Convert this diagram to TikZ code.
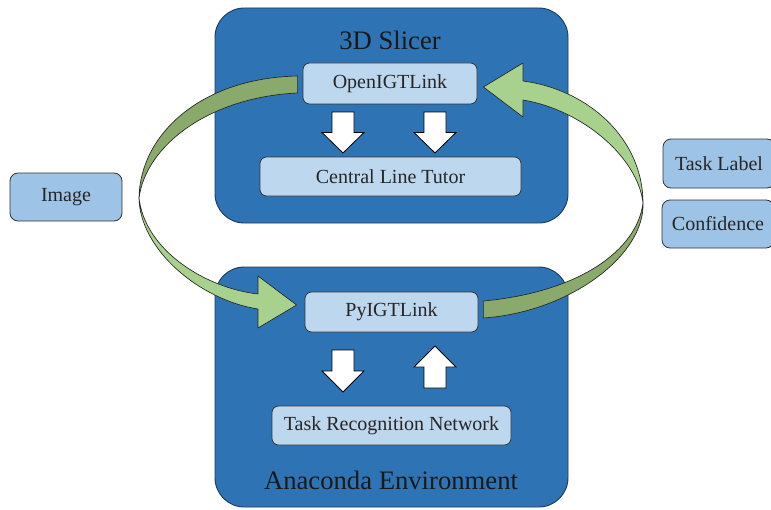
\documentclass[tikz,border=0pt]{standalone}
\usepackage{fontspec}
\setmainfont{Liberation Serif}
\usetikzlibrary{calc}
\definecolor{envblue}{HTML}{2E74B5}
\definecolor{envline}{HTML}{1F3A5F}
\definecolor{modfill}{HTML}{BDD7EE}
\definecolor{datafill}{HTML}{9DC3E6}
\definecolor{greenlight}{HTML}{A9D18E}
\definecolor{greendark}{HTML}{89AA6B}
\begin{document}
\begin{tikzpicture}[x=0.75pt,y=-0.75pt,
  envbox/.style={draw=envline,fill=envblue,rounded corners=22pt,line width=0.7pt,inner sep=0pt},
  modbox/.style={draw=black!80,fill=modfill,rounded corners=5pt,line width=0.6pt,inner sep=0pt,
    text=black!85,font=\fontsize{15}{18}\selectfont},
  databox/.style={modbox,fill=datafill,rounded corners=6pt,minimum width=84pt,minimum height=36pt},
  envtitle/.style={text=black!90,font=\fontsize{20}{24}\selectfont},
  ribbon/.style={draw=black!85,line width=0.5pt,line join=round},
  blockarrow/.style={draw=black,fill=white,line width=0.6pt,line join=miter}]
\useasboundingbox (0,0) rectangle (771,510);
% the two environments
\node[envbox,minimum width=264.75pt,minimum height=161.25pt] (slicer) at (391.5,115.5) {};
\node[envbox,minimum width=264.75pt,minimum height=180pt] (conda) at (391.5,387) {};
\node[envtitle] (slicertitle) at (390,40) {3D Slicer};
\node[envtitle] (condatitle) at (391,480) {Anaconda Environment};
% modules
\node[modbox,minimum width=130.5pt,minimum height=30.75pt] (oigt) at (390,83.5) {OpenIGTLink};
\node[modbox,minimum width=195.75pt,minimum height=29.25pt] (clt) at (390.5,176.5) {Central Line Tutor};
\node[modbox,minimum width=129.75pt,minimum height=30pt] (py) at (391.5,312) {PyIGTLink};
\node[modbox,minimum width=179.25pt,minimum height=29.25pt] (trn) at (391.5,425.5) {Task Recognition Network};
% data
\node[databox] (img) at (66,197) {Image};
\node[databox,minimum height=36.75pt] (tlabel) at (719,163.5) {Task Label};
\node[databox] (conf) at (718,224) {Confidence};
% white block arrows
\foreach \x/\ya/\yb in {343/112/153,435/112/153,343/350/392,435/388/346} {
  \pgfmathsetmacro\yh{(\ya+\yb)/2}
  \draw[blockarrow] ({\x-11},\ya) -- ({\x+11},\ya) -- ({\x+11},\yh) -- ({\x+21},\yh)
    -- (\x,\yb) -- ({\x-21},\yh) -- ({\x-11},\yh) -- cycle;
}
% curved arrow: Slicer -> PyIGTLink
\coordinate (ltailA) at ($(oigt.west)+(-5,-7.5)$);
\coordinate (ltailB) at ($(oigt.west)+(-5,9.5)$);
\coordinate (ltip) at ($(py.west)+(-8,-7)$);
\draw[ribbon,fill=greendark] (ltailA) .. controls (200,78) and (140,135) .. (139,198)
  .. controls (146,145) and (210,97) .. (ltailB) -- cycle;
\draw[ribbon,fill=greenlight] (139,198) .. controls (140,250) and (200,300) .. (258,309)
  -- (258,328) -- (ltip) -- (258,276) -- (258,294)
  .. controls (205,288) and (145,250) .. (139,198) -- cycle;
% curved arrow: PyIGTLink -> Slicer
\coordinate (rtailA) at ($(py.east)+(5,-11)$);
\coordinate (rtailB) at ($(py.east)+(5,6)$);
\coordinate (rtip) at ($(oigt.east)+(6,3.5)$);
\draw[ribbon,fill=greendark] (rtailB) .. controls (570,312) and (645,255) .. (643,203)
  .. controls (637,250) and (580,292) .. (rtailA) -- cycle;
\draw[ribbon,fill=greenlight] (643,203) .. controls (643,140) and (590,90) .. (523,81)
  -- (523,63) -- (rtip) -- (523,117) -- (523,100)
  .. controls (583,110) and (638,158) .. (643,203) -- cycle;
\end{tikzpicture}
\end{document}
